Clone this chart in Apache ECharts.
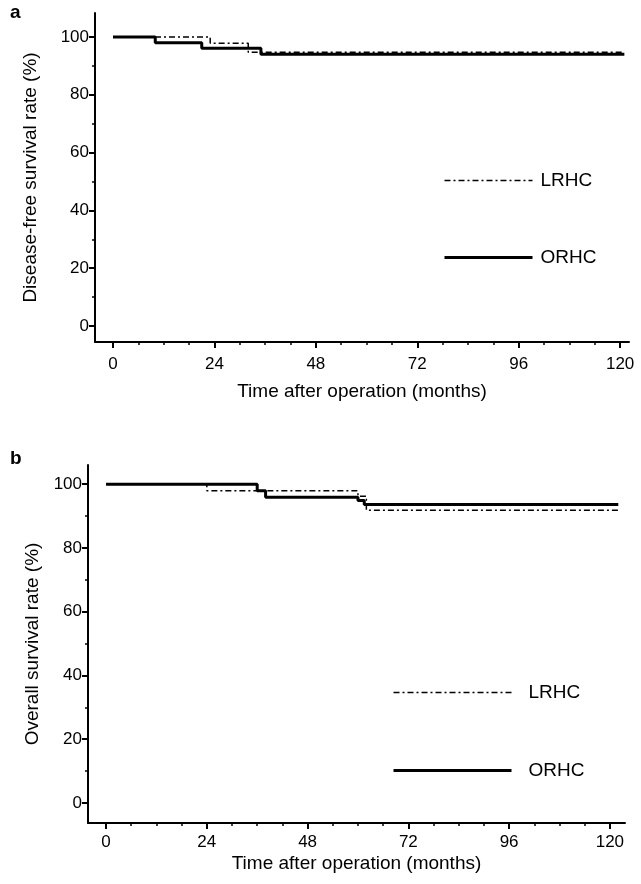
<!DOCTYPE html>
<html>
<head>
<meta charset="utf-8">
<script src="https://cdn.jsdelivr.net/npm/echarts@6/dist/echarts.min.js"></script>
<style>
html,body{margin:0;padding:0;background:#fff;}
#c{width:641px;height:884px;}
</style>
</head>
<body>
<div id="c"></div>
<script>
// ---- data ----
var yTicks = [0, 20, 40, 60, 80, 100];
var yMinorTicks = [10, 30, 50, 70, 90];
var xTicks = [0, 24, 48, 72, 96, 120];
var xMinorTicks = [6, 12, 18, 30, 36, 42, 54, 60, 66, 78, 84, 90, 102, 108, 114];

// Panel a: disease-free survival
var dfsTimeLRHC = [0, 23, 32, 121];
var dfsLRHC     = [100, 97.8, 94.7, 94.7];
var dfsTimeORHC = [0, 10, 21, 35, 121];
var dfsORHC     = [100, 98, 96.1, 94.0, 94.0];

// Panel b: overall survival
var osTimeLRHC = [0, 24, 60, 62, 122];
var osLRHC     = [100, 97.9, 96.2, 91.8, 91.8];
var osTimeORHC = [0, 36, 38, 60, 61.5, 122];
var osORHC     = [100, 97.9, 95.9, 94.9, 93.6, 93.6];

var seriesNames = ['LRHC', 'ORHC'];

function pairs(t, v) { return t.map(function (x, i) { return [x, v[i]]; }); }

var FONT = 'Liberation Sans, Arial, sans-serif';
var dashDot = [6, 3, 2, 3];
var dashStyle = { color: '#000', width: 1.5, type: dashDot };
var solidStyle = { color: '#000', width: 3, type: 'solid' };

function makeX(idx, min, max, nameGap, margin) {
  return [{
    gridIndex: idx, type: 'value', min: min, max: max, position: 'bottom',
    name: 'Time after operation (months)', nameLocation: 'middle', nameGap: nameGap,
    nameTextStyle: { fontFamily: FONT, fontSize: 19, color: '#000' },
    axisLine: { onZero: false, lineStyle: { color: '#000', width: 2 } },
    axisTick: { inside: false, length: 6, lineStyle: { color: '#000', width: 2 }, customValues: xTicks },
    axisLabel: { customValues: xTicks, fontFamily: FONT, fontSize: 17, color: '#000', margin: margin },
    splitLine: { show: false }
  }, {
    gridIndex: idx, type: 'value', min: min, max: max, position: 'bottom',
    axisLine: { show: false, onZero: false },
    axisTick: { inside: false, length: 3, lineStyle: { color: '#000', width: 1.5 }, customValues: xMinorTicks },
    axisLabel: { show: false, customValues: xMinorTicks },
    splitLine: { show: false }
  }];
}
function makeY(idx, min, max, name, nameGap) {
  return [{
    gridIndex: idx, type: 'value', min: min, max: max, position: 'left',
    name: name, nameLocation: 'middle', nameGap: nameGap,
    nameTextStyle: { fontFamily: FONT, fontSize: 19, color: '#000' },
    axisLine: { onZero: false, lineStyle: { color: '#000', width: 2 } },
    axisTick: { inside: false, length: 6, lineStyle: { color: '#000', width: 2 }, customValues: yTicks },
    axisLabel: { customValues: yTicks, fontFamily: FONT, fontSize: 17, color: '#000', margin: 6 },
    splitLine: { show: false }
  }, {
    gridIndex: idx, type: 'value', min: min, max: max, position: 'left',
    axisLine: { show: false, onZero: false },
    axisTick: { inside: false, length: 3, lineStyle: { color: '#000', width: 1.5 }, customValues: yMinorTicks },
    axisLabel: { show: false, customValues: yMinorTicks },
    splitLine: { show: false }
  }];
}

var xa = makeX(0, -4.26, 122.1, 40, 14);
var xb = makeX(1, -4.3, 123.6, 31, 11);
var ya = makeY(0, -5.54, 108.3, 'Disease-free survival rate (%)', 55);
var yb = makeY(1, -6.3, 106, 'Overall survival rate (%)', 46);

function lineSeries(name, xi, yi, data, solid) {
  return {
    name: name, type: 'line', step: 'end', xAxisIndex: xi, yAxisIndex: yi,
    data: data, symbol: 'none', silent: true,
    lineStyle: solid ? solidStyle : dashStyle,
    itemStyle: { color: '#000' }
  };
}

var legendItemStyle = { color: 'rgba(0,0,0,0)', borderColor: 'rgba(0,0,0,0)', borderWidth: 0 };
var legendData = [
  { name: seriesNames[0], lineStyle: dashStyle },
  { name: seriesNames[1], lineStyle: solidStyle }
];

var option = {
  animation: false,
  backgroundColor: '#fff',
  grid: [
    { left: 95, top: 13, width: 534, height: 329, containLabel: false },
    { left: 88, top: 465, width: 537, height: 358, containLabel: false }
  ],
  xAxis: xa.concat(xb),
  yAxis: ya.concat(yb),
  legend: [
    { data: legendData, orient: 'vertical', left: 438, top: 166, itemWidth: 88, itemHeight: 14,
      itemGap: 58, itemStyle: legendItemStyle,
      textStyle: { fontFamily: FONT, fontSize: 19, color: '#000', padding: [0, 0, 0, 3] }, selectedMode: false },
    { data: legendData, orient: 'vertical', left: 387, top: 678, itemWidth: 118, itemHeight: 14,
      itemGap: 59, itemStyle: legendItemStyle,
      textStyle: { fontFamily: FONT, fontSize: 19, color: '#000', padding: [0, 0, 0, 12] }, selectedMode: false }
  ],
  graphic: [
    { type: 'text', left: 10, top: 3, style: { text: 'a', font: 'bold 19px ' + FONT, fill: '#000' } },
    { type: 'text', left: 10, top: 449, style: { text: 'b', font: 'bold 19px ' + FONT, fill: '#000' } }
  ],
  series: [
    lineSeries(seriesNames[0], 0, 0, pairs(dfsTimeLRHC, dfsLRHC), false),
    lineSeries(seriesNames[1], 0, 0, pairs(dfsTimeORHC, dfsORHC), true),
    lineSeries(seriesNames[0], 2, 2, pairs(osTimeLRHC, osLRHC), false),
    lineSeries(seriesNames[1], 2, 2, pairs(osTimeORHC, osORHC), true)
  ]
};

var chart = echarts.init(document.getElementById('c'), null, { renderer: 'canvas' });
chart.setOption(option);
</script>
</body>
</html>
